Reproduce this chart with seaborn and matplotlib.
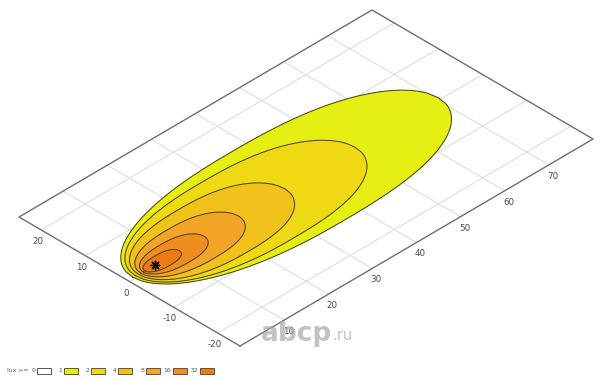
import numpy as np
import matplotlib
matplotlib.use("Agg")
import matplotlib.pyplot as plt
from matplotlib.transforms import Affine2D
from matplotlib.patches import Rectangle
import seaborn as sns

# ---------------- data ----------------
legend_levels = [0, 1, 2, 4, 8, 16, 32]
legend_colors = ["#ffffff", "#e6ef14", "#efd915", "#f0c21b", "#f2a527", "#f18c1e", "#ee7a16"]

iso_levels = [1, 2, 4, 8, 16, 32]
iso_colors = legend_colors[1:]
iso_near = [1.2, 1.8, 2.4, 2.9, 3.4, 3.8]          # back tip of each isolux line (m)
iso_far = [70.5, 51.5, 35.5, 25.0, 17.2, 11.6]      # front tip (m)
iso_halfwidth = [13.0, 10.6, 8.0, 5.4, 3.3, 1.75]   # max lateral half width (m)
iso_center = [0.5, 0.4, 0.35, 0.3, 0.3, 0.3]        # lateral centre of each line (m)

peak_x = [6.0]
peak_y = [0.3]

dist_ticks = [10, 20, 30, 40, 50, 60, 70]
lat_ticks = [20, 10, 0, -10, -20]
dist_range = (0, 80)
lat_range = (-25, 25)

# ---------------- figure ----------------
sns.set_theme(style="white")
plt.rcParams["font.family"] = ["DejaVu Sans"]

fig = plt.figure(figsize=(6.0, 3.8), dpi=100)
ax = fig.add_axes([0, 0, 1, 1])
ax.set_xlim(0, 600)
ax.set_ylim(380, 0)
ax.axis("off")

# oblique projection of the ground plane (distance x, lateral y) onto the page
proj = Affine2D.from_values(4.4125, -2.5875, -4.42, -2.58, 129.5, 281.5)
tr = proj + ax.transData

# grid
grid_c = "#dedede"
for xv in dist_ticks:
    ax.plot([xv, xv], list(lat_range), color=grid_c, lw=0.8, transform=tr, zorder=1)
for yv in lat_ticks:
    ax.plot(list(dist_range), [yv, yv], color=grid_c, lw=0.8, transform=tr, zorder=1)

# isolux areas
def egg(x0, x1, w, yc, n=240):
    s = np.linspace(0.0, 1.0, n)
    u = 2 * s - 1
    p = np.where(u < 0, 2.3, 2.6)
    g = np.sqrt(np.clip(1 - np.abs(u) ** p, 0, 1))
    x = x0 + (x1 - x0) * s
    xs = np.concatenate([x, x[::-1]])
    ys = np.concatenate([yc + w * g, yc - w * g[::-1]])
    return xs, ys

for lev, col, x0, x1, w, yc in zip(iso_levels, iso_colors, iso_near, iso_far,
                                   iso_halfwidth, iso_center):
    xs, ys = egg(x0, x1, w, yc)
    ax.fill(xs, ys, facecolor=col, edgecolor="none", transform=tr, zorder=2)
    ax.plot(xs, ys, color="#4f4414", lw=0.75, transform=tr, zorder=3)

# plane border
bx = [dist_range[0], dist_range[1], dist_range[1], dist_range[0], dist_range[0]]
by = [lat_range[0], lat_range[0], lat_range[1], lat_range[1], lat_range[0]]
ax.plot(bx, by, color="#6e6e6e", lw=1.0, transform=tr, zorder=4)

# peak marker
sns.scatterplot(x=peak_x, y=peak_y, ax=ax, marker=(8, 2, 0), s=40, color="#111111",
                linewidth=1.0, transform=tr, zorder=5, legend=False)

# tick labels
tick_c = "#4a4a4a"
for xv in dist_ticks:
    ax.annotate(str(xv), xy=(xv, lat_range[0]), xycoords=tr, xytext=(4, -11.5),
                textcoords="offset pixels", ha="center", va="center", fontsize=6.3, color=tick_c)
for yv in lat_ticks:
    ax.annotate(str(yv), xy=(dist_range[0], yv), xycoords=tr, xytext=(-3.5, -11.5),
                textcoords="offset pixels", ha="center", va="center", fontsize=6.3, color=tick_c)

# legend
ax.text(18, 370.5, "lux >=", fontsize=4.4, color="#555555", ha="center", va="center")
for i, (lev, col) in enumerate(zip(legend_levels, legend_colors)):
    x0 = 36.5 + 27.3 * i
    ax.add_patch(Rectangle((x0, 367.6), 14, 6.2, facecolor=col, edgecolor="#555555", lw=0.7))
    ax.text(x0 - 1.5, 370.7, str(lev), fontsize=4.4, color="#555555", ha="right", va="center")

# watermark
ax.text(296, 334, "abcp", fontsize=19, fontweight="bold", color="#a8a8a8", alpha=0.7,
        ha="center", va="center", zorder=6)
ax.text(343, 336, ".ru", fontsize=10.5, color="#a8a8a8", alpha=0.7,
        ha="center", va="center", zorder=6)

fig.savefig("out.png", dpi=100)
